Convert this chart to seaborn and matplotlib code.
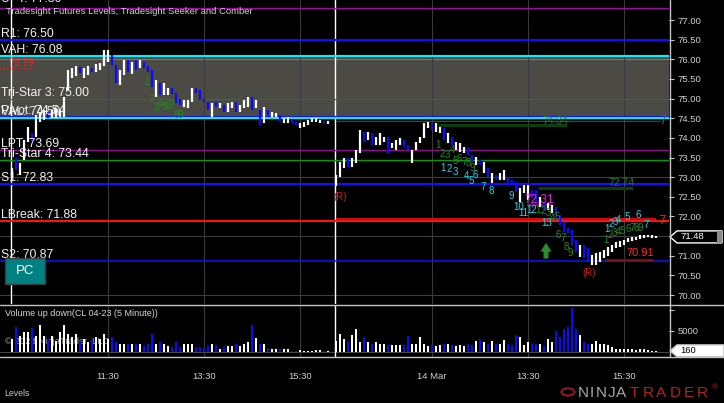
import matplotlib
matplotlib.use("Agg")
import matplotlib.pyplot as plt
from matplotlib.lines import Line2D
from matplotlib.patches import Rectangle, Polygon, Circle
import matplotlib.transforms as mtransforms
import pandas as pd
import seaborn as sns

# ---------------- data ----------------
session_start = [0, 81]          # bar slot where each session begins
session_tick_minutes = [[120, 240, 360], [120, 240, 360]]
tick_labels = ["11:30", "13:30", "15:30", "14 Mar", "13:30", "15:30"]
bar_minutes = 5

day1_high = [73.23, 73.49, 73.36, 73.95, 74.28, 74.13, 74.58, 74.66, 74.71, 74.66,
             74.71, 74.76, 74.71, 75.04, 75.73, 75.78, 75.83, 75.80, 75.78, 75.83,
             75.78, 75.88, 75.91, 76.24, 76.24, 76.11, 75.86, 75.73, 75.98, 75.98,
             75.93, 75.98, 75.98, 75.93, 75.83, 75.73, 75.47, 75.40, 75.40, 75.27,
             75.27, 75.14, 74.99, 74.97, 74.97, 75.27, 75.27, 75.22, 74.99, 74.91,
             74.89, 74.91, 74.89, 74.84, 74.89, 74.91, 74.91, 74.84, 74.97, 75.04,
             75.04, 74.97, 74.71, 74.79, 74.71, 74.66, 74.63, 74.58, 74.51, 74.53,
             74.46, 74.41, 74.38, 74.41, 74.46, 74.51, 74.51, 74.46, 74.43, 74.43]
day1_low = [72.98, 73.18, 73.06, 73.44, 73.90, 73.92, 74.02, 74.41, 74.46, 74.51,
            74.51, 74.51, 74.53, 74.53, 75.22, 75.52, 75.58, 75.65, 75.52, 75.60,
            75.68, 75.68, 75.73, 75.83, 75.93, 75.86, 75.40, 75.35, 75.60, 75.68,
            75.63, 75.73, 75.78, 75.78, 75.68, 75.30, 75.04, 75.09, 75.09, 75.09,
            75.12, 74.89, 74.84, 74.79, 74.76, 74.91, 75.14, 74.97, 74.91, 74.71,
            74.53, 74.79, 74.76, 74.66, 74.66, 74.76, 74.66, 74.66, 74.76, 74.79,
            74.71, 74.76, 74.33, 74.38, 74.58, 74.53, 74.53, 74.41, 74.38, 74.38,
            74.38, 74.33, 74.25, 74.28, 74.33, 74.41, 74.41, 74.38, 74.35, 74.35]
day1_up = [1, 0, 1, 1, 1, 0, 1, 1, 1, 0,
           1, 1, 1, 1, 1, 1, 1, 0, 1, 1,
           0, 1, 1, 1, 1, 0, 0, 1, 1, 0,
           1, 0, 1, 0, 0, 0, 1, 0, 1, 1,
           0, 0, 0, 1, 1, 1, 0, 0, 0, 0,
           1, 0, 1, 0, 1, 1, 0, 1, 1, 1,
           0, 1, 0, 1, 0, 1, 1, 0, 1, 1,
           0, 0, 1, 1, 1, 1, 1, 1, 0, 1]
day1_volume = [3000, 5900, 3800, 4600, 4600, 5600, 3800, 6400, 3800, 3000,
               3800, 2600, 4600, 6300, 4200, 3400, 4200, 2600, 3000, 2200,
               3000, 3400, 3000, 4200, 3000, 3400, 2200, 1900, 1900, 1800,
               1800, 1900, 1800, 1400, 1800, 4300, 1800, 2200, 1900, 1400,
               1100, 2200, 1100, 1900, 1800, 1900, 1000, 1000, 1000, 1400,
               1900, 1500, 700, 1000, 1400, 1400, 1900, 1400, 1900, 2400,
               6400, 3200, 1900, 1800, 700, 700, 500, 600, 700, 500,
               200, 200, 300, 200, 200, 200, 300, 300, 200, 150]

day2_high = [73.06, 73.39, 73.49, 73.49, 73.49, 73.69, 74.20, 74.15, 74.15, 74.13,
             74.02, 74.13, 74.02, 74.02, 73.87, 73.95, 74.00, 73.95, 73.82, 73.69,
             73.90, 74.02, 74.38, 74.41, 74.38, 74.38, 74.28, 74.25, 74.13, 74.02,
             73.90, 73.87, 73.77, 73.74, 73.57, 73.51, 73.44, 73.39, 73.23, 73.11,
             73.06, 73.11, 73.18, 72.98, 72.93, 72.88, 72.73, 72.80, 72.80, 72.67,
             72.67, 72.50, 72.37, 72.34, 72.29, 72.24, 72.04, 71.86, 71.71, 71.66,
             71.40, 71.28, 71.28, 71.20, 71.02, 71.07, 71.10, 71.15, 71.22, 71.28,
             71.35, 71.38, 71.40, 71.45, 71.48, 71.48, 71.53, 71.53, 71.53, 71.53,
             71.50]
day2_low = [72.78, 73.01, 73.23, 73.26, 73.26, 73.36, 73.62, 73.90, 73.95, 73.82,
            73.82, 73.82, 73.90, 73.59, 73.74, 73.69, 73.82, 73.77, 73.69, 73.36,
            73.69, 73.87, 74.00, 74.25, 74.20, 74.15, 74.13, 73.95, 73.87, 73.82,
            73.69, 73.64, 73.62, 73.57, 73.39, 73.31, 73.31, 73.11, 73.01, 72.85,
            72.93, 72.93, 72.93, 72.85, 72.80, 72.62, 72.37, 72.60, 72.42, 72.47,
            72.34, 72.24, 72.17, 72.17, 72.09, 71.91, 71.78, 71.61, 71.58, 71.28,
            71.10, 70.97, 70.94, 70.84, 70.77, 70.77, 70.84, 70.94, 71.00, 71.10,
            71.20, 71.22, 71.28, 71.35, 71.38, 71.40, 71.43, 71.45, 71.48, 71.45,
            71.45]
day2_up = [1, 1, 1, 0, 1, 1, 1, 0, 1, 0,
           1, 1, 1, 0, 1, 1, 1, 0, 0, 1,
           1, 1, 1, 1, 0, 1, 1, 0, 1, 0,
           1, 1, 1, 0, 0, 1, 0, 1, 0, 1,
           0, 1, 1, 0, 0, 0, 1, 1, 1, 0,
           0, 1, 0, 1, 1, 0, 0, 0, 0, 0,
           0, 1, 0, 0, 1, 1, 1, 1, 1, 1,
           1, 1, 1, 1, 1, 1, 1, 1, 1, 1,
           1]
day2_volume = [2600, 4200, 3000, 2200, 3900, 5400, 2200, 3500, 2200, 1900,
               2200, 1800, 1800, 1500, 1500, 1500, 1500, 1500, 3800, 1800,
               1900, 3400, 1800, 1400, 1500, 1400, 1600, 1900, 1800, 1500,
               1400, 1500, 1400, 1800, 1500, 2600, 3000, 2200, 1900, 2600,
               1800, 1900, 2700, 1800, 1500, 4000, 3500, 1500, 2200, 1900,
               1900, 1800, 1400, 3000, 2200, 5000, 3400, 5500, 6000, 10400,
               5400, 3900, 2300, 1800, 1800, 2600, 1900, 1800, 1600, 1000,
               700, 600, 700, 600, 600, 300, 600, 500, 300, 200,
               160]
last_close = 71.48

level_names = ["UPT", "R1", "VAH", "Tri-Star 3", "Pivot", "VAL", "LPT", "Tri-Star 4", "S1", "LBreak", "S2"]
level_values = [77.30, 76.50, 76.08, 75.00, 74.54, 74.50, 73.69, 73.44, 72.83, 71.88, 70.87]
value_area = (74.50, 76.08)
grid_prices = [76.0, 74.5, 73.0, 71.5, 70.0]
price_ticks = [70.0, 70.5, 71.0, 71.5, 72.0, 72.5, 73.0, 73.5, 74.0, 74.5, 75.0, 75.5, 76.0, 76.5, 77.0]
volume_ticks = [5000, 10000]

# signal segments (price, start slot, end slot)
seg_price = [74.44, 74.33, 72.72, 71.94, 72.29, 70.88, 75.79]
seg_start = [81, 106.5, 131.5, 81, 128.75, 148.25, -3]
seg_end = [162, 138.75, 155.25, 161, 135.0, 160.25, 5]

# signal labels (text, slot, price)
sig_text = ["74.34", "72.74", "72.31", "70.91", "(R)", "(R)", "7", "7", "75.79"]
sig_slot = [135.75, 152.25, 131.75, 157.0, 82.0, 144.25, 162.6, 162.6, 2.3]
sig_price = [74.43, 72.84, 72.42, 71.07, 72.50, 70.56, 71.89, 74.44, 75.90]

# count labels
cnt_text = (["1", "2", "3", "4", "5", "6", "7", "8", "9"] +
            ["1", "2", "3", "4", "5", "6", "7", "8", "9"] +
            ["1", "2", "3", "4", "5", "6", "7", "8", "9", "10", "11", "12", "13"] +
            ["1", "2", "3", "4", "5", "6", "7", "8", "9"] +
            ["1", "2", "3", "4", "5", "6", "7"] +
            ["1", "2", "3", "4", "5", "6", "7", "8", "9"])
cnt_slot = ([33.75, 35.0, 36.0, 37.0, 38.0, 39.0, 40.0, 41.0, 42.0] +
            [106.5, 107.5, 108.75, 110.0, 110.75, 111.75, 113.0, 114.0, 115.0] +
            [107.75, 109.25, 110.75, 113.5, 114.75, 115.75, 117.75, 119.75, 124.75, 126.75, 127.75, 130.0, 133.75] +
            [131.5, 132.75, 134.0, 135.0, 136.25, 136.5, 137.75, 138.5, 139.5] +
            [148.75, 149.75, 150.75, 151.75, 153.75, 156.5, 158.5] +
            [148.5, 149.5, 150.5, 151.5, 152.5, 154.0, 155.0, 156.0, 157.0])
cnt_price = ([75.42, 74.99, 74.76, 74.86, 74.79, 74.81, 74.84, 74.58, 74.58] +
             [73.82, 73.59, 73.57, 73.69, 73.41, 73.46, 73.39, 73.36, 73.23] +
             [73.23, 73.21, 73.13, 73.03, 72.90, 73.06, 72.75, 72.65, 72.52, 72.24, 72.09, 72.17, 71.84] +
             [72.17, 72.14, 72.09, 71.96, 71.99, 71.53, 71.45, 71.22, 71.07] +
             [71.68, 71.81, 71.86, 71.91, 71.99, 72.04, 71.78] +
             [71.40, 71.53, 71.58, 71.61, 71.63, 71.68, 71.71, 71.71, 71.71])
cnt_kind = (["setup"] * 9 + ["setup"] * 9 + ["count"] * 13 + ["setup"] * 9 + ["count"] * 7 + ["setup"] * 9)
arrow_slot, arrow_from, arrow_to = 133.5, 70.93, 71.33

# ---------------- styles ----------------
sns.set_theme(style="dark", rc={"axes.facecolor": "black", "figure.facecolor": "black",
                                "axes.grid": False, "axes.edgecolor": "black"})
plt.rcParams["font.family"] = ["Liberation Sans", "DejaVu Sans"]

W, H = 724, 403
fig = plt.figure(figsize=(W / 100, H / 100), dpi=100, facecolor="black")


def fx(px):
    return px / W


def fy(py):
    return 1 - py / H


ax = fig.add_axes([0, fy(304), fx(669), 304 / H])
axv = fig.add_axes([0, fy(357), fx(669), (357 - 305) / H])
for a in (ax, axv):
    a.set_facecolor("black")
    for s in a.spines.values():
        s.set_visible(False)

XMIN, XMAX = -3, 164.25
ax.set_xlim(XMIN, XMAX)
ax.set_ylim(69.773, 77.509)

# build bar table
slots = [session_start[0] + i for i in range(len(day1_high))] + \
        [session_start[1] + i for i in range(len(day2_high))]
df = pd.DataFrame({
    "slot": slots,
    "high": day1_high + day2_high,
    "low": day1_low + day2_low,
    "up": day1_up + day2_up,
    "volume": day1_volume + day2_volume,
})
df["dir"] = ["up" if u else "down" for u in df["up"]]

tick_slots = []
for s, mins in zip(session_start, session_tick_minutes):
    for m in mins:
        tick_slots.append(s + m / bar_minutes)

# value area and grid
ax.axhspan(value_area[0], value_area[1], color="#4b4a44", zorder=0, lw=0)
for g in grid_prices:
    ax.axhline(g, color="#7a7a72" if value_area[0] < g < value_area[1] else "#3e3e3e", lw=0.8, zorder=1)
for t in tick_slots:
    ax.axvline(t, color="#3a3a3a", lw=0.8, zorder=1)
    axv.axvline(t, color="#3a3a3a", lw=0.8, zorder=0)
for s in session_start:
    ax.axvline(s - 0.25, color="white", lw=1.0, zorder=2)
axv.axvline(session_start[1] - 0.25, color="white", lw=1.0, zorder=3)

# levels
level_style = {
    "UPT": ("#9a109a", 1.0), "R1": ("#1010ff", 1.5), "VAH": ("#00f0ff", 1.5),
    "Tri-Star 3": ("#0a8a0a", 0.8), "Pivot": ("#1010ff", 1.5), "VAL": ("#00f0ff", 1.5),
    "LPT": ("#8a108a", 1.0), "Tri-Star 4": ("#0a9a0a", 1.0), "S1": ("#1010ff", 1.5),
    "LBreak": ("#ff1010", 1.5), "S2": ("#1010ff", 1.1),
}
lab_tr = mtransforms.blended_transform_factory(ax.transAxes, ax.transData)
for name, val in zip(level_names, level_values):
    c, lw = level_style[name]
    ax.axhline(val, color=c, lw=lw, zorder=3)
    ax.text(0.001, val + (0.07 if name == "UPT" else 0.0), f"{name}: {val:.2f}", transform=lab_tr,
            color="#f2f2f2", fontsize=8.8, va="bottom", ha="left", zorder=8, clip_on=True)

# signal segments
seg_style = [("#0b6a0b", 0.8), ("#0b400b", 2.2), ("#0b400b", 2.2), ("#ff1010", 1.1),
             ("#6a106a", 1.5), ("#7a1020", 2.0), ("#ff2020", 0.9)]
for (p, s0, s1), (c, lw) in zip(zip(seg_price, seg_start, seg_end), seg_style):
    ax.hlines(p, s0, s1, colors=c, lw=lw, zorder=4,
              linestyles=":" if c == "#ff2020" else "-")

# price bars
bar_colors = ["#ffffff" if u else "#0a0aff" for u in df["up"]]
ax.vlines(df["slot"], df["low"], df["high"], colors=bar_colors, lw=1.6, zorder=6)

# signal labels
sig_style = ["#237a23", "#237a23", "#e21ee2", "#ff2a2a", "#d01818", "#d01818", "#ff2020", "#1a8a1a", "#ff2020"]
sig_size = [7.5, 7.5, 8.5, 8, 7, 7, 9.5, 9, 7]
for t, s, p, c, fs in zip(sig_text, sig_slot, sig_price, sig_style, sig_size):
    ax.text(s, p, t, color=c, fontsize=fs, ha="center", va="center", zorder=9, clip_on=True)

for t, s, p, k in zip(cnt_text, cnt_slot, cnt_price, cnt_kind):
    ax.text(s, p, t, color="#1f8f1f" if k == "setup" else "#22d6ee", fontsize=7,
            ha="center", va="center", zorder=9)

ax.annotate("", xy=(arrow_slot, arrow_to), xytext=(arrow_slot, arrow_from),
            arrowprops=dict(arrowstyle="simple,head_width=1.0,head_length=0.8,tail_width=0.45",
                            color="#2e8b2e", lw=0, shrinkA=0, shrinkB=0, mutation_scale=8),
            zorder=9)

# right price axis
ax.yaxis.tick_right()
ax.set_yticks(price_ticks)
ax.set_yticklabels([f"{v:.2f}" for v in price_ticks])
ax.tick_params(axis="y", colors="#c8c8c8", labelsize=6.8, length=3.6, width=0.8, pad=2.4,
               direction="out", labelcolor="#d0d0d0")
ax.set_xticks([])

# volume (seaborn)
sns.barplot(data=df, x="slot", y="volume", hue="dir",
            palette={"up": "#ffffff", "down": "#0a0aff"}, native_scale=True,
            dodge=False, width=0.5, errorbar=None, legend=False, saturation=1,
            linewidth=0, ax=axv, zorder=4)
axv.set_xlim(XMIN, XMAX)
axv.set_ylim(-1322, 11178)
axv.axhline(0, color="#444444", lw=0.8, zorder=1)
axv.set_xlabel("")
axv.set_ylabel("")
axv.yaxis.tick_right()
axv.set_yticks(volume_ticks)
axv.set_yticklabels(["5000", ""])
axv.tick_params(axis="y", colors="#c8c8c8", labelsize=6.8, length=3.6, width=0.8, pad=2.4,
                direction="out", labelcolor="#d0d0d0")
axv.set_xticks(tick_slots)
axv.set_xticklabels(tick_labels)
axv.tick_params(axis="x", colors="#c8c8c8", labelsize=6.8, length=3.6, width=0.8, pad=7,
                direction="out", labelcolor="#d0d0d0")
axv.text(0.007, 0.83, "Volume up down(CL 04-23 (5 Minute))", transform=axv.transAxes,
         color="#d8d8d8", fontsize=6.5, va="center", ha="left", zorder=6)
axv.text(0.007, 0.3, "\u00a9 2023 NinjaTrader, LLC", transform=axv.transAxes,
         color="#9a9a9a", fontsize=6.8, va="center", ha="left", zorder=2)

# figure-level frame lines
for y in (304.5, 357.0):
    fig.add_artist(Line2D([0, 1], [fy(y), fy(y)], color="#c4c4c4", lw=1.0))
fig.add_artist(Line2D([fx(669.5), fx(669.5)], [fy(0), fy(357)], color="#c4c4c4", lw=1.0))

# texts
fig.text(fx(6), fy(11), "Tradesight Futures Levels, Tradesight Seeker and Comber",
         color="#d0d0d0", fontsize=6.8, va="center", ha="left")
fig.text(fx(4), fy(394), "Levels", color="#c8c8c8", fontsize=6.3, va="center", ha="left")

# PC box
fig.add_artist(Rectangle((fx(5), fy(284)), fx(40), 26 / H, facecolor="#008080",
                         edgecolor="#3c3c3c", lw=1.0))
fig.text(fx(25), fy(271), "PC", color="white", fontsize=9.5, ha="center", va="center")

# last price marker
tr_p = mtransforms.blended_transform_factory(fig.transFigure, ax.transData)
hp = 0.153
fig.add_artist(Polygon([(fx(670), last_close), (fx(677), last_close + hp), (fx(722), last_close + hp),
                        (fx(722), last_close - hp), (fx(677), last_close - hp)],
                       closed=True, transform=tr_p, facecolor="black", edgecolor="white", lw=1.0,
                       clip_on=False))
fig.add_artist(Rectangle((fx(717), last_close - hp), fx(5), 2 * hp, transform=tr_p,
                         facecolor="#8a8a8a", lw=0, clip_on=False))
fig.text(fx(680), last_close, f"{last_close:.2f}", transform=tr_p, color="white",
         fontsize=6.8, va="center", ha="left")

tr_v = mtransforms.blended_transform_factory(fig.transFigure, axv.transData)
last_vol = df["volume"].iloc[-1]
hv = 1440
fig.add_artist(Polygon([(fx(670), last_vol), (fx(677), last_vol + hv), (fx(724), last_vol + hv),
                        (fx(724), last_vol - hv), (fx(677), last_vol - hv)],
                       closed=True, transform=tr_v, facecolor="white", edgecolor="#c4c4c4", lw=1.0,
                       clip_on=False))
fig.text(fx(680), last_vol, f"{last_vol}", transform=tr_v, color="black",
         fontsize=6.8, va="center", ha="left")

# NinjaTrader logo
fig.add_artist(Circle((fx(568), fy(392)), 6.5 / W, transform=fig.transFigure,
                      facecolor="none", edgecolor="#8b1a1a", lw=1.6))
for ch, x in zip("NINJA", [578, 590, 596, 608, 616]):
    fig.text(fx(x), fy(393), ch, color="#a8a8a8", fontsize=11, va="center", ha="left",
             fontweight="light")
for ch, x in zip("TRADER", [630, 643, 656, 670, 684, 697]):
    fig.text(fx(x), fy(393), ch, color="#b42020", fontsize=11, va="center", ha="left")
fig.text(fx(712), fy(388), "\u00ae", color="#b42020", fontsize=6, va="center", ha="left")

fig.savefig("out.png", dpi=100, facecolor="black")
